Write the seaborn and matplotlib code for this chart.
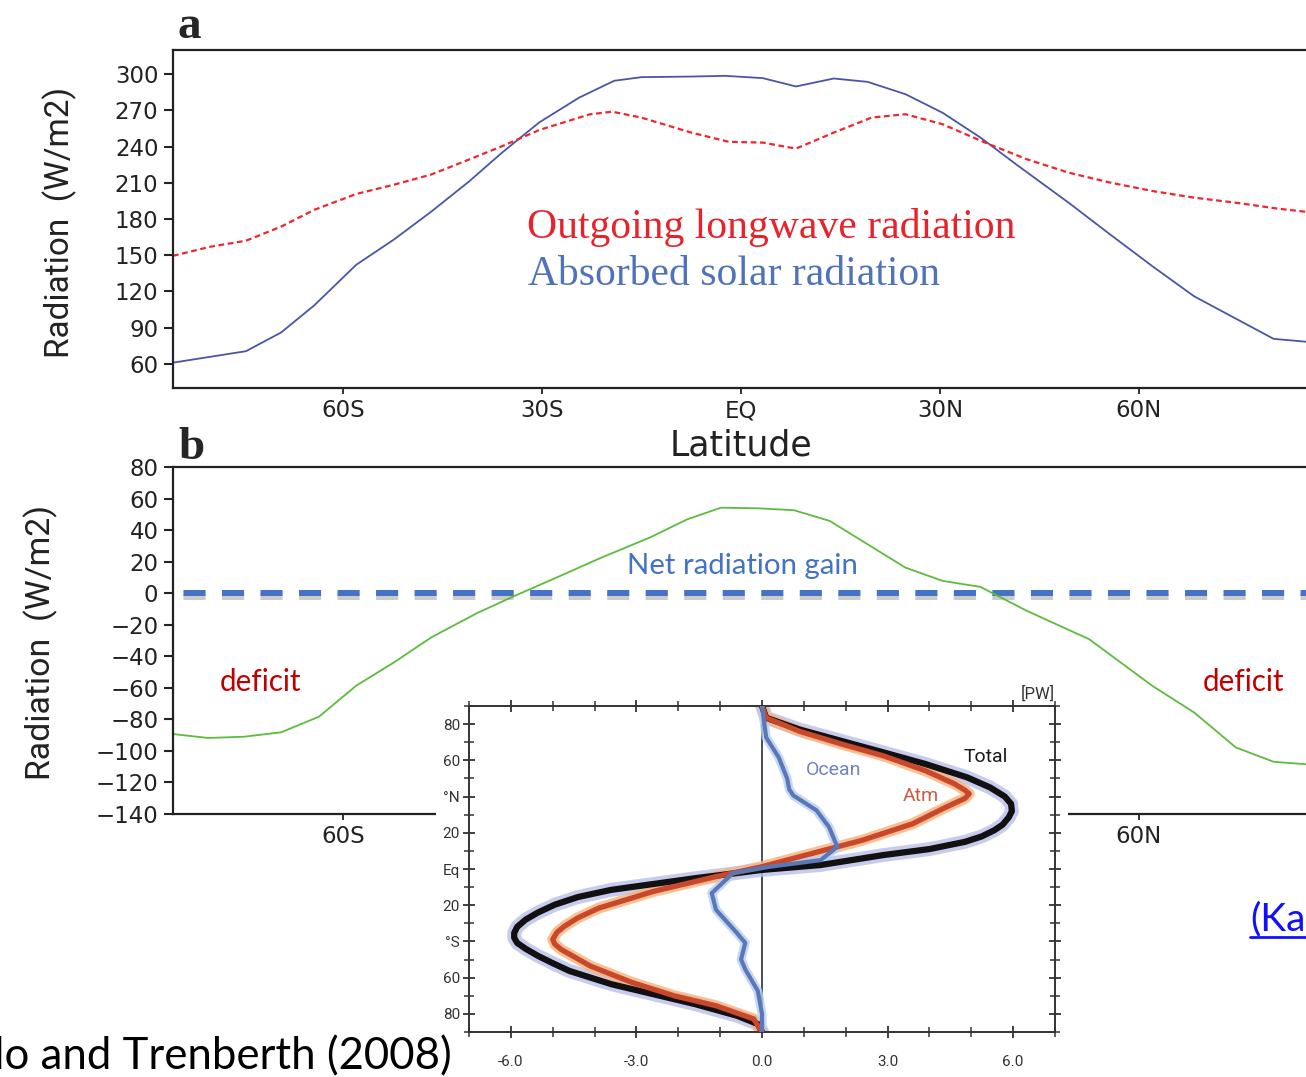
import matplotlib
matplotlib.use("Agg")
import matplotlib.pyplot as plt
import matplotlib.patheffects as pe
from matplotlib.patches import Rectangle
import pandas as pd
import seaborn as sns

# ---- Zonal-mean top-of-atmosphere radiation (W/m2) ----
asr_lat = [-85.6, -74.6, -69.3, -64.3, -58.0, -52.3, -46.7, -41.0, -36.0, -30.4,
           -24.4, -19.1, -15.0, -7.5, -2.4, 3.3, 8.3, 14.0, 19.1, 24.8, 30.4,
           36.1, 41.8, 49.4, 55.7, 62.0, 68.3, 75.3, 80.3, 90.0]
asr_val = [61, 70.5, 86, 108.5, 142, 163, 186, 211, 235, 260,
           280.5, 294.5, 297.5, 298, 298.6, 296.7, 289.8, 296.4, 293.6, 283.4, 268,
           247.5, 224, 193.5, 167, 141, 116, 95.4, 80.7, 76]

olr_lat = [-85.6, -80.0, -74.6, -69.3, -64.3, -58.0, -52.3, -46.7, -41.0, -36.0,
           -30.4, -22.8, -19.4, -15.0, -7.5, -1.8, 3.3, 8.3, 14.0, 19.7, 24.8,
           30.4, 36.8, 43.1, 49.4, 55.7, 62.0, 68.3, 74.6, 80.9, 90.0]
olr_val = [149.5, 157, 162, 173.7, 187.6, 200.7, 208.4, 216.8, 229.2, 240.3,
           253.7, 266.7, 268.9, 264, 251.6, 243.9, 243.3, 238.3, 251.6, 264, 266.8,
           258.5, 243.3, 229.5, 218.4, 210.1, 203.2, 197.7, 193.5, 188.6, 183]

net_lat = [-85.6, -80.3, -74.9, -69.3, -63.6, -58.0, -52.3, -46.7, -39.8, -34.1,
           -27.2, -21.0, -13.6, -8.1, -3.0, 2.7, 8.0, 13.4, 19.1, 24.8, 30.4,
           36.1, 43.1, 52.5, 62.0, 68.3, 74.6, 80.3, 90.0]
net_val = [-89.3, -91.8, -91, -88.2, -78.3, -58.7, -43.9, -28.1, -12.7, -1.7,
           11, 22.6, 35.5, 46.8, 54.2, 53.8, 52.6, 45.8, 31, 16.2, 7.8,
           4, -11.2, -29.2, -58.7, -75.6, -97.8, -106.9, -110]

lat_ticks = [-60, -30, 0, 30, 60]
lat_labels = ["60S", "30S", "EQ", "30N", "60N"]
top_yticks = [60, 90, 120, 150, 180, 210, 240, 270, 300]
bottom_yticks = [-140, -120, -100, -80, -60, -40, -20, 0, 20, 40, 60, 80]

# ---- Northward energy transport (PW) ----
total_lat = [90, 83.5, 77, 70.7, 64.4, 58, 50.6, 45, 40, 36.0, 32, 28.7, 24.5,
             21.4, 18, 15.0, 11, 7.7, 2.2, -0.5, -5.1, -11.5, -15.5, -19.7, -24,
             -28, -32, -35.3, -38, -40.8, -44, -48, -52, -56.3, -63.6,
             -69.1, -74.6, -81, -85.6, -90]
total_pw = [0.0, 0.1, 0.9, 1.9, 2.9, 3.9, 4.9, 5.45, 5.8, 5.95, 5.97, 5.9, 5.75,
            5.55, 5.25, 4.85, 4.0, 2.9, 1.4, 0.0, -1.6, -3.6, -4.4, -4.95, -5.35,
            -5.65, -5.85, -5.92, -5.92, -5.85, -5.65, -5.35, -5.0, -4.6, -3.6,
            -2.6, -1.6, -0.6, -0.1, 0.0]

atm_lat = [90, 83.5, 76, 69, 62.5, 54.3, 47, 43.5, 41.5, 39, 34.2, 25, 15.9, 6.8,
           1.3, -4.2, -12.4, -21.6, -27, -31.6, -35, -38.9, -41.5, -44.4, -53.6,
           -62.7, -70, -75.5, -82.8, -90]
atm_pw = [0.0, 0.1, 0.9, 1.9, 2.9, 3.9, 4.6, 4.85, 4.95, 4.85, 4.4, 3.6, 2.4, 0.9,
          0.0, -1.1, -2.6, -3.9, -4.4, -4.72, -4.9, -5.0, -4.95, -4.8, -4.1,
          -3.1, -2.1, -1.1, -0.2, 0.0]

ocean_lat = [90, 72.6, 61.6, 50, 44, 40.6, 32.4, 23.2, 12.2, 4.9, 1.3, -2.4,
             -13.3, -22.5, -35.3, -40.8, -49.9, -55.4, -67.3, -80, -90]
ocean_pw = [0.0, 0.1, 0.4, 0.6, 0.65, 0.75, 1.3, 1.6, 1.8, 1.4, 0.2, -0.7,
            -1.2, -1.1, -0.6, -0.4, -0.5, -0.4, -0.1, 0.0, 0.0]

inset_lat_ticks = [80, 60, 40, 20, 0, -20, -40, -60, -80]
inset_lat_labels = ["80", "60", "°N", "20", "Eq", "20", "°S", "60", "80"]
inset_pw_ticks = [-6, -3, 0, 3, 6]
inset_pw_labels = ["-6.0", "-3.0", "0.0", "3.0", "6.0"]

sns.set_style("white")
plt.rcParams["font.family"] = ["DejaVu Sans"]
plt.rcParams["axes.unicode_minus"] = True

W, H = 1306, 1077
fig = plt.figure(figsize=(W / 100, H / 100), dpi=100)
fig.patch.set_facecolor("white")


def fx(px):
    return px / W


def fy(py):
    return 1 - py / H


def axes_box(x0, y0, x1, y1):
    return [fx(x0), fy(y1), (x1 - x0) / W, (y1 - y0) / H]


XMIN, XMAX = -85.6, 90.0
ax1 = fig.add_axes(axes_box(173, 50, 1338, 388))
ax2 = fig.add_axes(axes_box(173, 467, 1338, 814))

tick_font = dict(family="DejaVu Sans", size=16.5)
for ax in (ax1, ax2):
    for s in ax.spines.values():
        s.set_linewidth(1.6)
        s.set_color("#222222")
    ax.set_xlim(XMIN, XMAX)
    ax.set_xticks(lat_ticks)
    ax.set_xticklabels(lat_labels, **tick_font)
    ax.tick_params(axis="y", direction="out", length=6.5, width=1.5, pad=4,
                   left=True, colors="#222222")
    ax.tick_params(axis="x", direction="out", length=4, width=1.3, pad=4,
                   bottom=True, colors="#222222")

# Panel a: absorbed solar vs outgoing longwave
df_asr = pd.DataFrame({"lat": asr_lat, "rad": asr_val})
df_olr = pd.DataFrame({"lat": olr_lat, "rad": olr_val})
sns.lineplot(data=df_asr, x="lat", y="rad", ax=ax1, color="#4a55a8", lw=1.3)
sns.lineplot(data=df_olr, x="lat", y="rad", ax=ax1, color="#f0262e", lw=1.6,
             linestyle=(0, (2.6, 1.6)))
ax1.set_ylim(40, 320)
ax1.set_yticks(top_yticks)
ax1.set_yticklabels([str(v) for v in top_yticks], **tick_font)
ax1.set_ylabel("Radiation  (W/m2)", family="Roboto", size=24, color="#222222")
ax1.yaxis.label.set_va("center")
ax1.yaxis.set_label_coords((60 - 173) / 1165, (388 - 222) / 338)
ax1.set_xlabel("Latitude", family="DejaVu Sans", size=25, color="#222222")
ax1.xaxis.label.set_va("center")
ax1.xaxis.set_label_coords((741 - 173) / 1165, (388 - 445) / 338)

fig.text(fx(527), fy(238), "Outgoing longwave radiation", family="Liberation Serif",
         size=30, color="#e8222a", va="baseline")
fig.text(fx(528), fy(285), "Absorbed solar radiation", family="Liberation Serif",
         size=30, color="#4f72b8", va="baseline")

# Panel b: net radiation
df_net = pd.DataFrame({"lat": net_lat, "rad": net_val})
ax2.axhline(0, color="#4472c4", lw=4.3, linestyle=(4.7, (3.7, 2.75)),
            solid_capstyle="butt", zorder=1,
            path_effects=[pe.SimpleLineShadow(offset=(0, -3), shadow_color="#8c8c8c",
                                              alpha=0.45),
                          pe.Normal()])
sns.lineplot(data=df_net, x="lat", y="rad", ax=ax2, color="#5dbb3e", lw=1.3, zorder=2)
ax2.set_ylim(-140, 80)
ax2.set_yticks(bottom_yticks)
ax2.set_yticklabels(["\u2212" + str(-v) if v < 0 else str(v) for v in bottom_yticks],
                    **tick_font)
ax2.set_ylabel("Radiation  (W/m2)", family="Roboto", size=24.4, color="#222222")
ax2.yaxis.label.set_va("center")
ax2.yaxis.set_label_coords((41 - 173) / 1165, (814 - 642) / 347)
ax2.set_xlabel("")

fig.text(fx(742), fy(574), "Net radiation gain", family="Lato", size=21.2,
         color="#4472c4", ha="center", va="baseline")
fig.text(fx(220), fy(691), "deficit", family="Lato", size=21.3, color="#c00000",
         va="baseline")
fig.text(fx(1203), fy(691), "deficit", family="Lato", size=21.3, color="#c00000",
         va="baseline")

# Panel letters
fig.text(fx(178), fy(38), "a", family="Liberation Serif", weight="bold", size=34,
         va="baseline")
fig.text(fx(178), fy(459), "b", family="Liberation Serif", weight="bold", size=34,
         va="baseline")

# White backing behind the transport inset
fig.patches.append(Rectangle((fx(436), 0), (1068 - 436) / W, fy(688),
                             transform=fig.transFigure, facecolor="white",
                             edgecolor="none", zorder=1))

# Inset: northward energy transport
ax3 = fig.add_axes(axes_box(469, 706, 1055, 1032), zorder=2)
ax3.set_facecolor("white")
df_tot = pd.DataFrame({"pw": total_pw, "lat": total_lat})
df_atm = pd.DataFrame({"pw": atm_pw, "lat": atm_lat})
df_ocn = pd.DataFrame({"pw": ocean_pw, "lat": ocean_lat})
ax3.axvline(0, color="#1c1c2c", lw=1.1, zorder=1)
sns.lineplot(data=df_tot, x="pw", y="lat", ax=ax3, sort=False, estimator=None,
             color="#b9c0ea", lw=10, alpha=0.8, solid_capstyle="round", zorder=2)
sns.lineplot(data=df_atm, x="pw", y="lat", ax=ax3, sort=False, estimator=None,
             color="#f7b27a", lw=8, alpha=0.8, solid_capstyle="round", zorder=2)
sns.lineplot(data=df_ocn, x="pw", y="lat", ax=ax3, sort=False, estimator=None,
             color="#b8d0ee", lw=6.5, alpha=0.8, solid_capstyle="round", zorder=2)
sns.lineplot(data=df_tot, x="pw", y="lat", ax=ax3, sort=False, estimator=None,
             color="#111111", lw=4.5, zorder=3)
sns.lineplot(data=df_atm, x="pw", y="lat", ax=ax3, sort=False, estimator=None,
             color="#c9472b", lw=3.8, zorder=4)
sns.lineplot(data=df_ocn, x="pw", y="lat", ax=ax3, sort=False, estimator=None,
             color="#5a78b8", lw=3.0, zorder=5)
ax3.set_xlim(-7, 7)
ax3.set_ylim(-90, 90)
ax3.set_xlabel("")
ax3.set_ylabel("")
inset_font = dict(family="Roboto", size=11, color="#3a3a3a")
ax3.set_xticks(inset_pw_ticks)
ax3.set_xticklabels(inset_pw_labels, **inset_font)
ax3.set_xticks(range(-7, 8), minor=True)
ax3.set_yticks(inset_lat_ticks)
ax3.set_yticklabels(inset_lat_labels, **inset_font)
ax3.set_yticks(range(-90, 91, 10), minor=True)
ax3.tick_params(which="major", direction="inout", length=9, width=1.3,
                top=True, right=True, bottom=True, left=True, colors="#333333", pad=2)
ax3.tick_params(axis="x", which="major", pad=12)
ax3.tick_params(which="minor", direction="inout", length=7, width=1.1,
                top=True, right=True, bottom=True, left=True, colors="#333333")
for s in ax3.spines.values():
    s.set_linewidth(1.4)
    s.set_color("#333333")
ax3.text(5.35, 62, "Total", family="Roboto", size=14,
         color="#1a1a1a", ha="center", va="center", zorder=6)
ax3.text(1.7, 54.5, "Ocean", family="Roboto", size=14,
         color="#6f82c4", ha="center", va="center", zorder=6)
ax3.text(3.8, 40.2, "Atm", family="Roboto", size=14,
         color="#cc5a44", ha="center", va="center", zorder=6)
ax3.text(6.6, 97, "[PW]", family="Roboto", size=12,
         color="#333333", ha="center", va="center", clip_on=False)

# Source notes
fig.text(fx(452), fy(1069), "Fasullo and Trenberth (2008)", family="Lato", size=31.5,
         color="black", ha="right", va="baseline", zorder=3)
fig.text(fx(1250), fy(930), "(Ka", family="Lato", size=28,
         color="#1010ff", va="baseline", zorder=3)
fig.lines.append(plt.Line2D([fx(1250), fx(1306)], [fy(937), fy(937)],
                            transform=fig.transFigure, color="#1010ff", lw=2))

fig.savefig("out.png", dpi=100, facecolor="white")
